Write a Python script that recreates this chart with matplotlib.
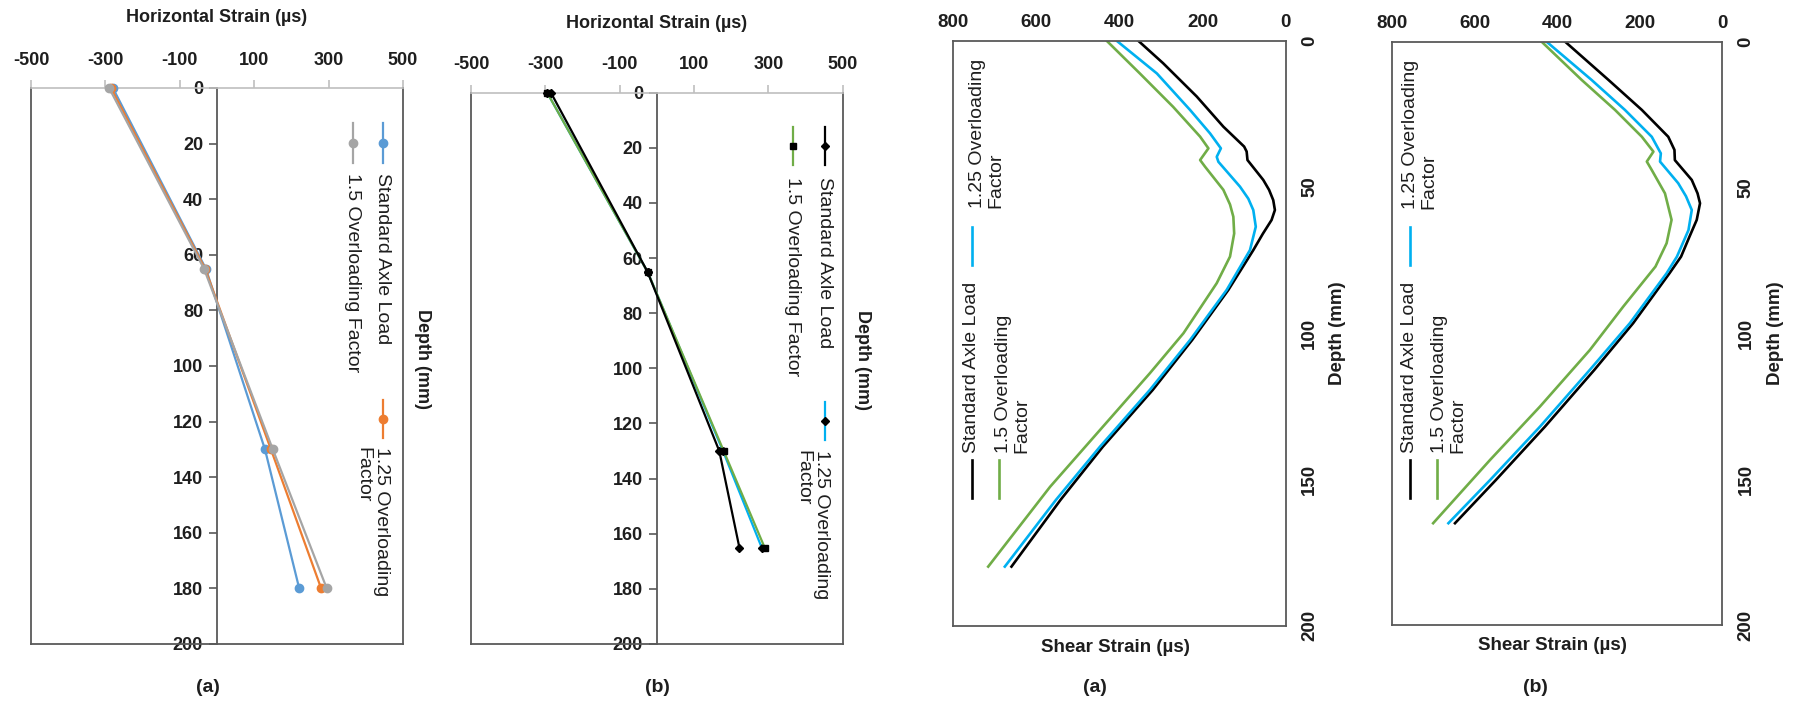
import matplotlib
matplotlib.use("Agg")
import matplotlib.pyplot as plt
from matplotlib.lines import Line2D

plt.rcParams['font.family'] = ['Liberation Sans', 'DejaVu Sans']
plt.rcParams['axes.unicode_minus'] = False

W, H = 1797, 708

# ---------------- data ----------------
# horizontal strain (us) vs depth (mm), panel (a)
hs_a_depth = [0, 65, 130, 180]
hs_a_std = [-280, -30, 129, 221]
hs_a_125 = [-285, -32, 145, 280]
hs_a_150 = [-290, -35, 150, 295]

# horizontal strain, panel (b)
hs_b_depth = [0, 65, 130, 165]
hs_b_std = [-285, -25, 168, 222]
hs_b_125 = [-295, -25, 178, 282]
hs_b_150 = [-295, -25, 180, 290]

# shear strain (us) vs depth (mm), panel (a)
sh_a_std_depth = [0, 7.7, 19.1, 29.4, 36.2, 37.9, 40.8, 47.6, 51, 54.5, 57.9, 61.3, 66, 71.6,
                  85.2, 102.3, 119.4, 138.8, 157, 179.8]
sh_a_std = [355, 295, 214, 150, 100, 94, 92, 54, 40, 30, 26, 34, 55, 78,
            138, 225, 320, 440, 542, 660]
sh_a_125_depth = [0, 11.2, 23.7, 31.7, 36.8, 39.7, 41.4, 49.9, 54, 57.9, 63.6, 71.6,
                  85.2, 102.3, 119.4, 138.8, 157, 179.8]
sh_a_125 = [407, 310, 230, 182, 156, 166, 162, 110, 90, 78, 72, 86,
            142, 230, 327, 447, 553, 676]
sh_a_150_depth = [0, 11.2, 22.6, 32.8, 36.8, 40.8, 43.1, 51, 56, 60.2, 65.9, 73.8,
                  82.9, 100, 113.7, 133.1, 152.5, 179.8]
sh_a_150 = [431, 351, 271, 206, 186, 206, 194, 150, 134, 126, 124, 134,
            166, 246, 327, 447, 567, 716]

# shear strain, panel (b)
sh_b_std_depth = [0, 13.1, 23.4, 32.6, 37.1, 40.6, 47.4, 52, 55.4, 61.1, 67, 73.7,
                  79.4, 96.5, 112.5, 132, 150.3, 165.1]
sh_b_std = [381, 276, 195, 131, 116, 115, 74, 60, 54, 62, 80, 100,
            128, 216, 310, 430, 549, 648]
sh_b_125_depth = [0, 13.1, 23.4, 32.6, 38.3, 41.1, 48.5, 53, 57.7, 64.6, 73.7,
                  79.4, 96.5, 112.5, 132, 150.3, 165.1]
sh_b_125 = [426, 317, 236, 171, 149, 151, 107, 88, 74, 82, 110,
            135, 224, 321, 442, 563, 664]
sh_b_150_depth = [0, 13.1, 23.4, 32.6, 37.7, 41.1, 44, 52, 61.1, 69.1, 77.1,
                  90.8, 105.7, 125.1, 143.4, 165.1]
sh_b_150 = [438, 341, 260, 195, 167, 183, 171, 139, 123, 135, 162,
            240, 321, 442, 563, 701]

hs_ticks = [-500, -300, -100, 100, 300, 500]
hs_depth_ticks = list(range(0, 201, 20))
sh_ticks = [800, 600, 400, 200, 0]
sh_depth_ticks = [0, 50, 100, 150, 200]

LBL_STD = "Standard Axle Load"
LBL_125 = "1.25 Overloading\nFactor"
LBL_150 = "1.5 Overloading Factor"
LBL_150_2 = "1.5 Overloading\nFactor"

BORDER = "#595959"
TXT = "#1e1e1e"


def fx(px):
    return px / W


def fy(py):
    return 1 - py / H


def box(l, t, r, b):
    return [l / W, 1 - b / H, (r - l) / W, (b - t) / H]


fig = plt.figure(figsize=(W / 100, H / 100), dpi=100)


# -------------------- horizontal strain panels --------------------
def horiz_panel(rect, depth, series, title_xy, depth_xy, tag_xy, tag):
    ax = fig.add_axes(box(*rect))
    for vals, color, mk, mfc, ms in series:
        ax.plot(vals, depth, color=color, lw=1.6, marker=mk, ms=ms,
                mfc=mfc, mec=mfc, zorder=5, clip_on=False)
    ax.set_xlim(-500, 500)
    ax.set_ylim(200, 0)
    ax.xaxis.tick_top()
    ax.set_xticks(hs_ticks)
    ax.tick_params(axis='x', direction='out', length=6, width=1.2, color='#bfbfbf',
                   pad=8, labelsize=13, labelcolor=TXT)
    for lab in ax.get_xticklabels():
        lab.set_fontweight('bold')
    ax.set_yticks([])
    ax.spines['top'].set_color('#bfbfbf')
    ax.spines['top'].set_linewidth(1.2)
    for s in ['left', 'right', 'bottom']:
        ax.spines[s].set_color(BORDER)
        ax.spines[s].set_linewidth(1.3)

    # depth axis drawn along x = 0
    ya = ax.secondary_yaxis(0.5)
    ya.set_alignment('left')
    ya.set_yticks(hs_depth_ticks)
    ya.tick_params(direction='out', length=6, width=1.2, color=BORDER, pad=4,
                   labelsize=13, labelcolor=TXT)
    for lab in ya.get_yticklabels():
        lab.set_fontweight('bold')
    ya.spines['left'].set_color(BORDER)
    ya.spines['left'].set_linewidth(1.3)

    fig.text(fx(title_xy[0]), fy(title_xy[1]), "Horizontal Strain (µs)", ha='center',
             va='center', fontsize=13, fontweight='bold', color=TXT)
    fig.text(fx(depth_xy[0]), fy(depth_xy[1]), "Depth (mm)", rotation=-90, ha='center',
             va='center', fontsize=13, fontweight='bold', color=TXT)
    fig.text(fx(tag_xy[0]), fy(tag_xy[1]), tag, ha='center', va='center',
             fontsize=14, fontweight='bold', color=TXT)
    return ax


def legend_entry(x, y0, y1, color, text, tx, ty, rot, mk=None, mfc=None, ms=6, lw=1.6):
    fig.add_artist(Line2D([fx(x), fx(x)], [fy(y0), fy(y1)], color=color, lw=lw))
    if mk:
        fig.add_artist(Line2D([fx(x)], [fy((y0 + y1) / 2)], ls='none', marker=mk,
                              ms=ms, mfc=mfc, mec=mfc))
    fig.text(fx(tx), fy(ty), text, rotation=rot, ha='center',
             va='top' if rot < 0 else 'bottom', fontsize=14, color=TXT,
             multialignment='left', linespacing=1.1)


# panel 1 (a)
blue1, orange1, gray1 = '#5B9BD5', '#ED7D31', '#A5A5A5'
horiz_panel((31, 88, 403, 644), hs_a_depth,
            [(hs_a_std, blue1, 'o', blue1, 6),
             (hs_a_125, orange1, 'o', orange1, 6),
             (hs_a_150, gray1, 'o', gray1, 6)],
            (217, 18), (423, 359), (208, 688), "(a)")
legend_entry(383, 123, 163, blue1, LBL_STD, 383, 173, -90, 'o', blue1)
legend_entry(353, 123, 163, gray1, LBL_150, 353, 173, -90, 'o', gray1)
legend_entry(383, 400, 438, orange1, LBL_125, 372, 447, -90, 'o', orange1)

# panel 2 (b)
blk, cyan, green = '#000000', '#00B0F0', '#70AD47'
horiz_panel((471, 92.7, 842.7, 644), hs_b_depth,
            [(hs_b_125, cyan, 'D', blk, 4),
             (hs_b_150, green, 's', blk, 4),
             (hs_b_std, blk, 'D', blk, 4)],
            (657, 23), (863, 360), (657, 688), "(b)")
legend_entry(825, 127, 165, blk, LBL_STD, 825, 177, -90, 'D', blk, 4)
legend_entry(793, 127, 165, green, LBL_150, 793, 177, -90, 's', blk, 4)
legend_entry(825, 402, 440, cyan, LBL_125, 812, 450, -90, 'D', blk, 4)


# -------------------- shear strain panels --------------------
def shear_panel(rect, curves, depth_xy, xlab_xy, tag_xy, tag):
    ax = fig.add_axes(box(*rect))
    for d, v, color in curves:
        ax.plot(v, d, color=color, lw=1.9)
    ax.set_xlim(800, 0)
    ax.set_ylim(200, 0)
    ax.xaxis.tick_top()
    ax.set_xticks(sh_ticks)
    ax.yaxis.tick_right()
    ax.set_yticks(sh_depth_ticks)
    ax.tick_params(length=0, labelsize=13.5, labelcolor=TXT)
    ax.tick_params(axis='x', pad=13)
    ax.tick_params(axis='y', pad=11, labelrotation=90)
    for lab in ax.get_xticklabels() + ax.get_yticklabels():
        lab.set_fontweight('bold')
        lab.set_verticalalignment('center')
    for s in ax.spines.values():
        s.set_color(BORDER)
        s.set_linewidth(1.3)
    fig.text(fx(depth_xy[0]), fy(depth_xy[1]), "Depth (mm)", rotation=90, ha='center',
             va='center', fontsize=13.5, fontweight='bold', color=TXT)
    fig.text(fx(xlab_xy[0]), fy(xlab_xy[1]), "Shear Strain (µs)", ha='center',
             va='center', fontsize=13.5, fontweight='bold', color=TXT)
    fig.text(fx(tag_xy[0]), fy(tag_xy[1]), tag, ha='center', va='center',
             fontsize=14, fontweight='bold', color=TXT)
    return ax


shear_panel((953.3, 40.7, 1285.7, 625.7),
            [(sh_a_std_depth, sh_a_std, blk),
             (sh_a_125_depth, sh_a_125, cyan),
             (sh_a_150_depth, sh_a_150, green)],
            (1338, 333), (1115, 647), (1095, 688), "(a)")
legend_entry(972, 227, 265, cyan, LBL_125, 987, 208, 90, lw=1.9)
legend_entry(972, 460, 498, blk, LBL_STD, 972, 453, 90, lw=1.9)
legend_entry(999, 460, 498, green, LBL_150_2, 1013, 453, 90, lw=1.9)

shear_panel((1392.3, 41.7, 1722.3, 625),
            [(sh_b_std_depth, sh_b_std, blk),
             (sh_b_125_depth, sh_b_125, cyan),
             (sh_b_150_depth, sh_b_150, green)],
            (1775, 333), (1552, 646), (1535, 688), "(b)")
legend_entry(1410, 227, 265, cyan, LBL_125, 1420, 209, 90, lw=1.9)
legend_entry(1410, 460, 498, blk, LBL_STD, 1410, 453, 90, lw=1.9)
legend_entry(1437, 460, 498, green, LBL_150_2, 1449, 453, 90, lw=1.9)

fig.savefig("out.png", dpi=100)
